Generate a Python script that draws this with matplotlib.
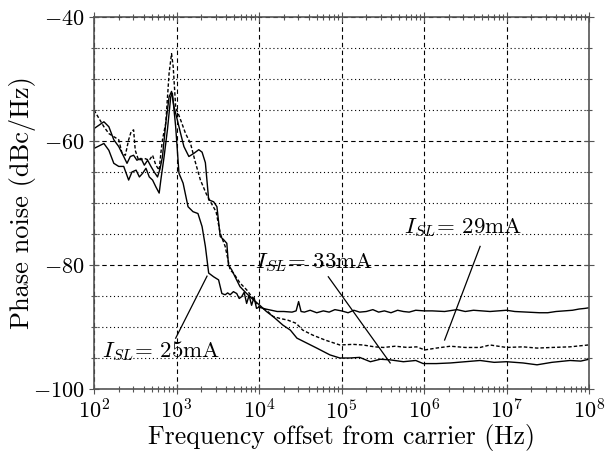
import numpy as np
import matplotlib
matplotlib.use("Agg")
import matplotlib.pyplot as plt
from matplotlib.ticker import FixedLocator, LogLocator, NullFormatter, LogFormatterMathtext, FuncFormatter

plt.rcParams.update({
    "font.family": "serif",
    "font.serif": ["cmr10"],
    "mathtext.fontset": "cm",
    "axes.formatter.use_mathtext": True,
})

# ---- data (log10 of frequency in Hz, phase noise in dBc/Hz) ----
logf_25 = [2.00, 2.12, 2.18, 2.24, 2.30, 2.36, 2.42, 2.46, 2.51, 2.55, 2.59, 2.63, 2.67, 2.71,
           2.75, 2.79, 2.81, 2.85, 2.89, 2.93, 2.95, 2.99, 3.03, 3.08, 3.14, 3.20, 3.26, 3.31,
           3.35, 3.39, 3.45, 3.51, 3.55, 3.59, 3.62, 3.65, 3.69, 3.73, 3.76, 3.79, 3.82, 3.85,
           3.88, 3.91, 3.94, 3.97, 4.00, 4.08, 4.15, 4.22, 4.30, 4.40, 4.45, 4.48, 4.51, 4.55,
           4.62, 4.70, 4.78, 4.85, 4.92, 5.00, 5.08, 5.15, 5.22, 5.30, 5.38, 5.45, 5.52, 5.60,
           5.68, 5.75, 5.82, 5.90, 6.00, 6.10, 6.25, 6.40, 6.50, 6.60, 6.70, 6.80, 6.90, 7.00,
           7.10, 7.25, 7.40, 7.50, 7.60, 7.70, 7.80, 7.88, 7.95, 8.00]
db_25 = [-61.2, -60.4, -61.5, -63.6, -64.1, -64.1, -66.3, -65.0, -64.7, -65.8, -65.2, -64.4, -65.8, -66.3,
         -67.4, -68.4, -66.3, -62.5, -58.2, -52.9, -52.3, -57.7, -65.2, -66.8, -70.6, -71.4, -71.7, -73.8,
         -77.0, -81.3, -81.9, -82.4, -84.6, -84.8, -84.5, -84.8, -84.3, -84.6, -85.4, -85.1, -84.4, -86.2,
         -84.9, -86.5, -85.2, -87.0, -86.8, -87.1, -87.3, -87.5, -87.5, -87.6, -87.4, -85.9, -87.5, -87.6,
         -87.3, -87.7, -87.4, -87.6, -87.2, -87.4, -87.7, -87.3, -87.6, -87.5, -87.2, -87.6, -87.4, -87.7,
         -87.3, -87.5, -87.6, -87.3, -87.4, -87.4, -87.5, -87.2, -87.5, -87.3, -87.4, -87.5, -87.4, -87.3,
         -87.5, -87.6, -87.7, -87.7, -87.5, -87.4, -87.3, -87.1, -87.0, -86.9]

logf_29 = [2.00, 2.12, 2.18, 2.24, 2.30, 2.34, 2.38, 2.42, 2.45, 2.48, 2.50, 2.54, 2.61, 2.67,
           2.71, 2.75, 2.79, 2.81, 2.83, 2.87, 2.91, 2.94, 2.96, 2.99, 3.05, 3.11, 3.17, 3.23,
           3.29, 3.36, 3.42, 3.48, 3.53, 3.59, 3.65, 3.69, 3.77, 3.85, 3.94, 4.00, 4.09, 4.17,
           4.25, 4.35, 4.45, 4.53, 4.65, 4.80, 4.98, 5.14, 5.26, 5.40, 5.51, 5.65, 5.80, 5.91,
           6.01, 6.15, 6.32, 6.50, 6.68, 6.80, 7.00, 7.20, 7.37, 7.55, 7.77, 7.99]
db_29 = [-55.0, -57.7, -58.8, -59.3, -59.8, -62.0, -62.3, -59.8, -58.5, -58.2, -61.5, -63.1, -62.8, -63.1,
         -62.3, -63.9, -64.7, -62.0, -59.8, -57.1, -49.1, -45.9, -48.0, -54.5, -56.6, -58.8, -60.4, -63.5,
         -66.3, -68.5, -70.0, -71.4, -74.9, -77.0, -80.8, -81.3, -82.9, -84.0, -85.6, -86.7, -87.3, -88.3,
         -88.6, -88.9, -89.4, -90.5, -91.3, -92.1, -92.9, -92.8, -92.9, -93.2, -93.3, -93.1, -93.3, -93.2,
         -93.7, -93.4, -93.1, -93.3, -93.3, -92.9, -93.3, -93.2, -93.4, -93.3, -93.2, -92.9]

logf_33 = [2.00, 2.12, 2.18, 2.24, 2.30, 2.36, 2.40, 2.44, 2.48, 2.52, 2.57, 2.61, 2.65, 2.69,
           2.73, 2.77, 2.80, 2.83, 2.87, 2.91, 2.94, 2.97, 3.01, 3.05, 3.09, 3.15, 3.21, 3.27,
           3.31, 3.35, 3.39, 3.45, 3.49, 3.53, 3.57, 3.61, 3.63, 3.67, 3.71, 3.77, 3.85, 3.93,
           4.01, 4.09, 4.17, 4.29, 4.38, 4.46, 4.58, 4.70, 4.86, 4.98, 5.10, 5.22, 5.35, 5.47,
           5.59, 5.75, 5.90, 5.99, 6.15, 6.32, 6.50, 6.68, 6.85, 7.00, 7.20, 7.37, 7.55, 7.77,
           7.90, 8.00]
db_33 = [-58.0, -56.9, -57.7, -59.8, -60.9, -62.5, -63.6, -62.5, -62.3, -63.1, -62.8, -63.9, -63.1, -64.1,
         -65.0, -65.8, -64.5, -62.5, -57.1, -52.9, -52.0, -54.5, -56.6, -58.8, -60.9, -62.5, -62.0, -61.4,
         -61.8, -63.5, -69.5, -69.8, -70.6, -75.4, -75.9, -76.5, -80.0, -80.8, -81.9, -83.5, -84.6, -85.6,
         -86.5, -87.5, -88.3, -89.7, -90.5, -91.8, -92.6, -93.4, -94.5, -95.0, -95.0, -94.9, -95.6, -95.2,
         -95.3, -95.6, -95.4, -95.9, -95.9, -95.8, -95.6, -95.4, -95.7, -95.6, -95.8, -96.1, -95.7, -95.4,
         -95.5, -95.2]

ann_text = [r"$I_{SL}$= 25mA", r"$I_{SL}$= 33mA", r"$I_{SL}$= 29mA"]
ann_tip_logf = [3.37, 5.59, 6.25]
ann_tip_db = [-81.8, -95.8, -92.1]
ann_start_logf = [2.99, 4.84, 6.68]
ann_start_db = [-91.8, -81.9, -77.0]
ann_text_logf = [2.81, 4.67, 6.47]
ann_text_db = [-94.0, -79.6, -74.0]

fig = plt.figure(figsize=(6.14, 4.54), dpi=100)
ax = fig.add_axes([94/614, 1-389/454, (589-94)/614, (389-17)/454])

ax.plot(10**np.array(logf_25), db_25, color="black", lw=1.0, ls="-")
ax.plot(10**np.array(logf_33), db_33, color="black", lw=1.0, ls="-")
ax.plot(10**np.array(logf_29), db_29, color="black", lw=1.0, ls=(0, (2.5, 1.5)))

for t, tx, ty, sx, sy, ex, ey in zip(ann_text, ann_text_logf, ann_text_db,
                                     ann_start_logf, ann_start_db, ann_tip_logf, ann_tip_db):
    ax.plot([10**sx, 10**ex], [sy, ey], color="black", lw=0.9)
    ax.text(10**tx, ty, t, fontsize=16.5, ha="center", va="center")

ax.set_xscale("log")
ax.set_xlim(1e2, 1e8)
ax.set_ylim(-100, -40)

ax.xaxis.set_major_locator(LogLocator(base=10, numticks=10))
ax.xaxis.set_minor_locator(LogLocator(base=10, subs=np.arange(2, 10), numticks=10))
ax.xaxis.set_major_formatter(LogFormatterMathtext())
ax.xaxis.set_minor_formatter(NullFormatter())
ax.yaxis.set_major_locator(FixedLocator([-100, -80, -60, -40]))
ax.yaxis.set_minor_locator(FixedLocator(np.arange(-100, -39, 5)))
ax.yaxis.set_major_formatter(FuncFormatter(lambda v, p: r"$-%d$" % abs(v)))

ax.grid(True, which="major", axis="both", color="black", ls=(0, (4, 3)), lw=0.8)
ax.grid(True, which="minor", axis="y", color="black", ls=(0, (1, 2.5)), lw=0.8)

ax.tick_params(which="both", direction="inout", top=True, right=True, labelsize=16, color="#555555")
ax.tick_params(which="major", length=7, width=0.8)
ax.tick_params(which="minor", length=4, width=0.8)
for s in ax.spines.values():
    s.set_color("#555555")
    s.set_linewidth(1.2)

ax.set_xlabel("Frequency offset from carrier (Hz)", fontsize=18.5)
ax.set_ylabel("Phase noise (dBc/Hz)", fontsize=19)
ax.xaxis.set_label_coords(0.5, -0.095)
ax.yaxis.set_label_coords(-0.117, 0.5)

fig.savefig("out.png", dpi=100)
